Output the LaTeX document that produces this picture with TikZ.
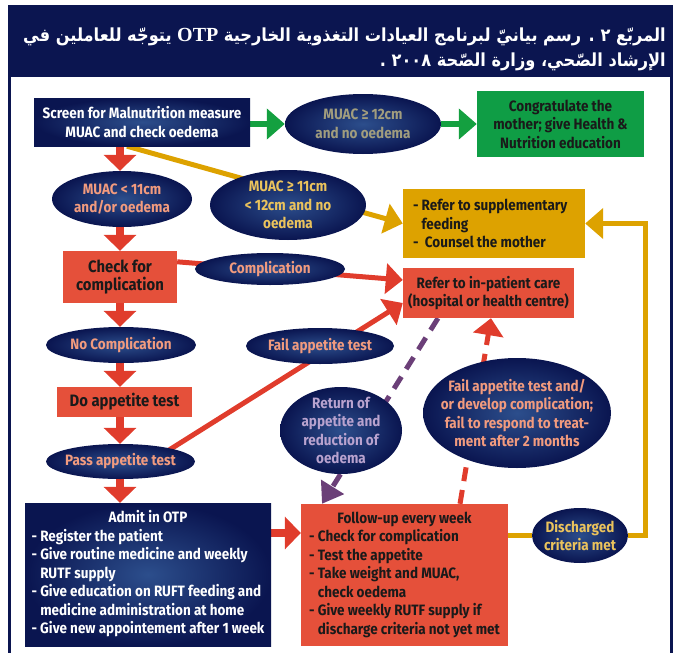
\documentclass[tikz,border=0pt]{standalone}
\usepackage{fontspec}
\setmainfont{Fira Sans}[FakeStretch=0.9]
\newfontfamily\arabicfont[Script=Arabic,FakeStretch=0.9]{DejaVu Sans}
\newfontfamily\ltnserif{Liberation Serif}
\TeXXeTstate=1
\usetikzlibrary{shapes.geometric,arrows.meta,calc}
\pgfdeclarelayer{bg}
\pgfsetlayers{bg,main}
\definecolor{navyout}{HTML}{0A1550}
\definecolor{navyin}{HTML}{2C4E8C}
\definecolor{banner}{HTML}{0B1550}
\definecolor{boxred}{HTML}{E5503A}
\definecolor{arrred}{HTML}{E03C2C}
\definecolor{boxgreen}{HTML}{0F9D45}
\definecolor{arrgreen}{HTML}{14A040}
\definecolor{gold}{HTML}{DDA200}
\definecolor{purp}{HTML}{6B3F78}
\definecolor{salmon}{HTML}{F29B7E}
\definecolor{goldtxt}{HTML}{EBC35C}
\definecolor{graytxt}{HTML}{A19D7E}
\definecolor{lavtxt}{HTML}{B9A3CF}
\definecolor{txtblack}{HTML}{1A1A1A}
\tikzset{
  navyrect/.style={rectangle, inner sep=0pt, inner color=navyin, outer color=navyout},
  navyell/.style={ellipse, inner sep=0pt, inner color=navyin, outer color=navyout},
  redrect/.style={rectangle, fill=boxred, inner sep=0pt},
  txt/.style={inner sep=0pt, align=center, font=\bfseries\fontsize{15}{18.5}\selectfont},
  bigtxt/.style={inner sep=0pt, align=center, font=\bfseries\fontsize{16.5}{18.5}\selectfont},
  redarr/.style={draw=arrred, line width=8pt, -{Triangle[length=16pt 0 0,width=32pt 0 0]}},
  redthin/.style={draw=arrred, line width=5pt, -{Triangle[length=17pt 0 0,width=30pt 0 0]}},
  greenarr/.style={draw=arrgreen, line width=6pt, -{Triangle[length=18pt 0 0,width=30pt 0 0]}},
  goldarr/.style={draw=gold, line width=5pt, line join=miter, -{Triangle[length=18pt 0 0,width=30pt 0 0]}},
  goldline/.style={draw=gold, line width=5pt},
  purparr/.style={draw=purp, line width=5pt, dash pattern=on 14pt off 9pt, -{Triangle[length=20pt 0 0,width=26pt 0 0]}},
  reddash/.style={draw=arrred, line width=5pt, dash pattern=on 14pt off 9pt, -{Triangle[length=17pt 0 0,width=30pt 0 0]}},
}
\begin{document}
\begin{tikzpicture}[x=1pt,y=-1pt]
\useasboundingbox (0,0) rectangle (675,653);
% frame and banner
\fill[banner] (8,5) rectangle (673,77);
\draw[banner, line width=2.5pt] (9.5,77) -- (9.5,653);
\draw[banner, line width=2.5pt] (671.5,77) -- (671.5,653);
\node[anchor=east, align=right, text=white, inner sep=0pt,
      font=\arabicfont\bfseries\fontsize{18}{25}\selectfont] (title) at (666,49)
 {\beginR المربّع ٢ . رسم بيانيّ لبرنامج العيادات التغذوية الخارجية \beginL{\ltnserif\bfseries\fontsize{20}{25}\selectfont OTP}\endL{} يتوجّه للعاملين في\endR\\
  \beginR الإرشاد الصّحي، وزارة الصّحة \beginL ٢٠٠٨\endL{} .\endR};

% nodes
\node[navyrect, minimum width=216pt, minimum height=48pt] (screen) at (142,122) {};
\node[txt, text=white] (screent) at (screen) {Screen for Malnutrition measure\\MUAC and check oedema};

\node[navyell, minimum width=156pt, minimum height=60pt] (e12) at (363,124) {};
\node[txt, text=graytxt] (e12t) at (e12) {MUAC ≥ 12cm\\and no oedema};

\node[rectangle, fill=boxgreen, inner sep=0pt, minimum width=167pt, minimum height=66pt] (congr) at (560.5,124) {};
\node[txt, text=txtblack] (congrt) at (congr) {Congratulate the\\mother; give Health \&\\Nutrition education};

\node[navyell, minimum width=140pt, minimum height=56pt] (e11) at (122,199) {};
\node[txt, text=salmon] (e11t) at (e11) {MUAC < 11cm\\and/or oedema};

\node[navyell, minimum width=156pt, minimum height=70pt] (e1112) at (288,205) {};
\node[txt, text=goldtxt] (e1112t) at (e1112) {MUAC ≥ 11cm\\< 12cm and no\\oedema};

\node[rectangle, fill=gold, inner sep=0pt, minimum width=182pt, minimum height=69pt] (supp) at (494,223.5) {};
\node[txt, text=txtblack, align=left, anchor=west] (suppt) at ($(supp.west)+(10,0)$) {- Refer to supplementary\\\phantom{- }feeding\\-\ \ Counsel the mother};

\node[redrect, minimum width=114pt, minimum height=52pt] (check) at (120,277) {};
\node[bigtxt, text=txtblack] (checkt) at (check) {Check for\\complication};

\node[navyell, minimum width=150pt, minimum height=32pt] (compl) at (270,269) {};
\node[txt, text=salmon] (complt) at (compl) {Complication};

\node[navyell, minimum width=150pt, minimum height=36pt] (nocompl) at (121,345) {};
\node[txt, text=salmon] (nocomplt) at (nocompl) {No Complication};

\node[redrect, minimum width=135pt, minimum height=30pt] (doapp) at (124.5,402) {};
\node[bigtxt, text=txtblack] (doappt) at (doapp) {Do appetite test};

\node[navyell, minimum width=149pt, minimum height=35pt] (pass) at (120.5,461.5) {};
\node[txt, text=salmon] (passt) at (pass) {Pass appetite test};

\node[navyell, minimum width=148pt, minimum height=36pt] (failapp) at (320,346) {};
\node[txt, text=salmon] (failappt) at (failapp) {Fail appetite test};

\node[redrect, minimum width=171pt, minimum height=50pt] (refer) at (488.5,293) {};
\node[txt, text=txtblack] (refert) at (refer) {Refer to in-patient care\\(hospital or health centre)};

\node[navyell, minimum width=122pt, minimum height=87pt] (ret) at (341,430.5) {};
\node[txt, text=lavtxt] (rett) at (ret) {Return of\\appetite and\\reduction of\\oedema};

\node[navyell, minimum width=188pt, minimum height=110pt] (failc) at (517,413) {};
\node[txt, text=salmon] (failct) at (failc) {Fail appetite test and/\\or develop complication;\\fail to respond to treat-\\ment after 2 months};

\node[navyrect, minimum width=246pt, minimum height=143pt] (admit) at (148,574.5) {};
\node[txt, text=white] (admitt) at (admit) {\begin{tabular}{@{}l@{}}
\multicolumn{1}{@{}c@{}}{Admit in OTP}\\
- Register the patient\\
- Give routine medicine and weekly\\
\phantom{- }RUTF supply\\
- Give education on RUFT feeding and\\
\phantom{- }medicine administration at home\\
- Give new appointement after 1 week
\end{tabular}};

\node[redrect, minimum width=207pt, minimum height=142pt] (follow) at (404.5,575) {};
\node[txt, text=txtblack] (followt) at (follow) {\begin{tabular}{@{}l@{}}
\multicolumn{1}{@{}c@{}}{Follow-up every week}\\
- Check for complication\\
- Test the appetite\\
- Take weight and MUAC,\\
\phantom{- }check oedema\\
- Give weekly RUTF supply if\\
\phantom{- }discharge criteria not yet met
\end{tabular}};

\node[navyell, minimum width=96pt, minimum height=55pt] (disch) at (580,535.5) {};
\node[txt, text=goldtxt] (discht) at (disch) {Discharged\\criteria met};

% connectors
\coordinate (colx) at (120,0);
\coordinate (g1) at (127,0);
\coordinate (yaf) at (0,533);
\coordinate (pstart) at (150,462);
\coordinate (pu1) at (438,0);
\coordinate (pu2) at (322,0);
\coordinate (rd1) at (460,0);
\coordinate (rd2) at (491,0);
\begin{pgfonlayer}{bg}
\draw[greenarr] (screen.east |- e12) -- (e12.west);
\draw[greenarr] (e12.east) -- (congr.west |- e12.east);
\draw[redarr] (screen.south -| colx) -- (e11.north -| colx);
\draw[redarr] (e11.south -| colx) -- (check.north -| colx);
\draw[redarr] (check.south -| colx) -- (nocompl.north -| colx);
\draw[redarr] (nocompl.south -| colx) -- (doapp.north -| colx);
\draw[redarr] (doapp.south -| colx) -- (pass.north -| colx);
\draw[redarr] (pass.south -| colx) -- (admit.north -| colx);
\draw[redarr] (admit.east |- yaf) -- (follow.west |- yaf);
\draw[goldarr] (screen.south -| g1) -- (supp.west);
\draw[goldline] (follow.east |- disch) -- (disch.west);
\draw[goldarr] (disch.east) -| ($(supp.east)+(60,0)$) -- (supp.east);
\draw[redthin] ($(check.north east)+(0,11)$) -- ($(refer.west)+(0,-13)$);
\draw[redthin] (pstart) -- ($(refer.west)+(0,10)$);
\draw[purparr] (refer.south -| pu1) -- (follow.north -| pu2);
\draw[reddash] (follow.north -| rd1) -- (refer.south -| rd2);
\end{pgfonlayer}
\end{tikzpicture}
\end{document}
